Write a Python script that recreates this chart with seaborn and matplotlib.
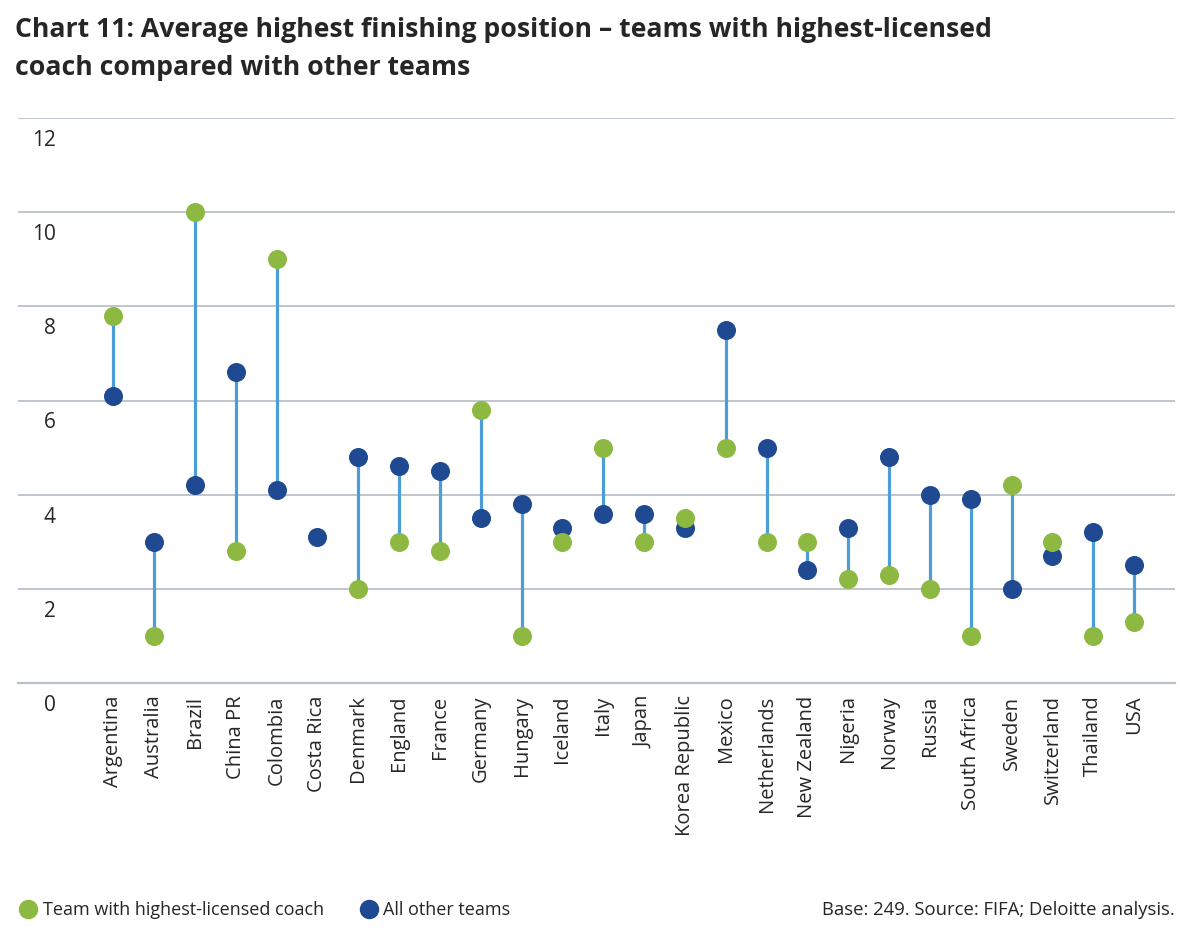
import numpy as np
import pandas as pd
import matplotlib
matplotlib.use("Agg")
import matplotlib.pyplot as plt
import matplotlib.transforms as mtransforms
from matplotlib.lines import Line2D
import seaborn as sns

# %% data
teams = ["Argentina", "Australia", "Brazil", "China PR", "Colombia", "Costa Rica",
         "Denmark", "England", "France", "Germany", "Hungary", "Iceland", "Italy",
         "Japan", "Korea Republic", "Mexico", "Netherlands", "New Zealand", "Nigeria",
         "Norway", "Russia", "South Africa", "Sweden", "Switzerland", "Thailand", "USA"]
licensed = [7.8, 1.0, 10.0, 2.8, 9.0, np.nan, 2.0, 3.0, 2.8, 5.8, 1.0, 3.0, 5.0,
            3.0, 3.5, 5.0, 3.0, 3.0, 2.2, 2.3, 2.0, 1.0, 4.2, 3.0, 1.0, 1.3]
others = [6.1, 3.0, 4.2, 6.6, 4.1, 3.1, 4.8, 4.6, 4.5, 3.5, 3.8, 3.3, 3.6,
          3.6, 3.3, 7.5, 5.0, 2.4, 3.3, 4.8, 4.0, 3.9, 2.0, 2.7, 3.2, 2.5]
yticks = [0, 2, 4, 6, 8, 10, 12]

GREEN = "#8DB943"
NAVY = "#1F4A91"
STEM = "#4C9ED9"
GRID = "#B9C0C8"

df = pd.DataFrame({"team": teams, "licensed": licensed, "others": others})

# %% plot
sns.set_style("white")
plt.rcParams["font.family"] = ["Open Sans", "DejaVu Sans"]

fig = plt.figure(figsize=(11.92, 9.32), dpi=100)
ax = fig.add_axes([18 / 1192, 1 - 683 / 932, (1175 - 18) / 1192, (683 - 118) / 932])

# stems between the two values
lo = df[["licensed", "others"]].min(axis=1)
hi = df[["licensed", "others"]].max(axis=1)
ax.vlines(np.arange(len(df)), lo, hi, color=STEM, linewidth=2.3, zorder=2)

sns.stripplot(data=df, x="team", y="others", color=NAVY, size=13.7, jitter=False,
              linewidth=0, ax=ax, zorder=3)
sns.stripplot(data=df, x="team", y="licensed", color=GREEN, size=13.7, jitter=False,
              linewidth=0, ax=ax, zorder=4)

ax.set_xlim(-2.33, 26.0)
ax.set_ylim(0, 12)
ax.set_yticks(yticks)
ax.set_yticklabels([str(t) for t in yticks])
ax.set_xlabel("")
ax.set_ylabel("")
ax.grid(axis="y", color=GRID, linewidth=1.3)
ax.set_axisbelow(True)
for s in ["top", "right", "left"]:
    ax.spines[s].set_visible(False)
ax.spines["bottom"].set_color(GRID)
ax.spines["bottom"].set_linewidth(1.6)

ax.tick_params(axis="both", length=0)
ax.tick_params(axis="x", labelsize=14.5, pad=9, labelrotation=90)
ax.tick_params(axis="y", labelsize=15, pad=0)

# y labels sit inside the plot, just below their gridline
shift = mtransforms.ScaledTranslation(0.38, -0.2, fig.dpi_scale_trans)
for lab in ax.get_yticklabels():
    lab.set_transform(lab.get_transform() + shift)

# title
fig.text(15 / 1192, 1 - 17 / 932,
         "Chart 11: Average highest finishing position \u2013 teams with highest-licensed\n"
         "coach compared with other teams",
         fontsize=19.2, fontweight="bold", va="top", ha="left", linespacing=1.6)

# legend and source
handles = [Line2D([], [], marker="o", linestyle="", color=GREEN, markersize=13),
           Line2D([], [], marker="o", linestyle="", color=NAVY, markersize=13)]
fig.legend(handles, ["Team with highest-licensed coach", "All other teams"],
           loc="center left", bbox_to_anchor=(3 / 1192, 1 - 910 / 932), ncol=2,
           frameon=False, fontsize=13, handletextpad=0.3, columnspacing=2.0,
           handlelength=1.0)
fig.text(1175 / 1192, 1 - 910 / 932, "Base: 249. Source: FIFA; Deloitte analysis.",
         fontsize=13.3, ha="right", va="center")

fig.savefig("out.png", dpi=100)
